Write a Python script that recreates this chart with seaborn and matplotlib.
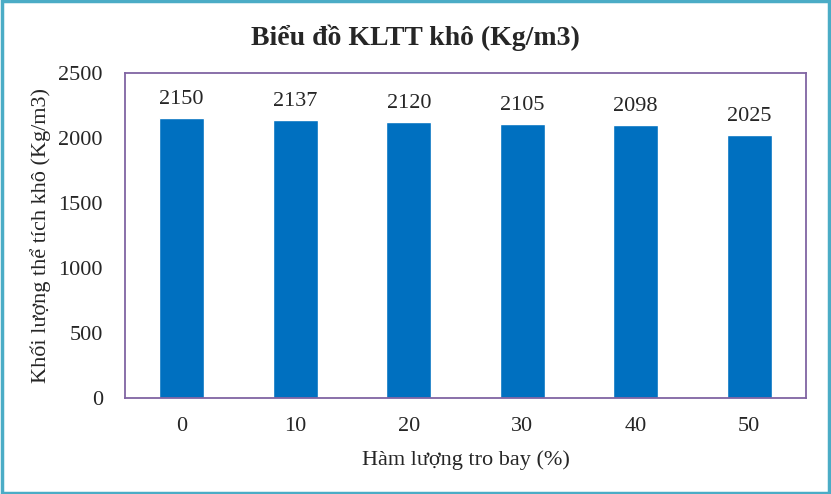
import matplotlib
matplotlib.use("Agg")
import matplotlib.pyplot as plt
import seaborn as sns
import pandas as pd
from matplotlib.patches import Rectangle

# Data
fly_ash = ["0", "10", "20", "30", "40", "50"]
density = [2150, 2137, 2120, 2105, 2098, 2025]

sns.set_style("white")
plt.rcParams['font.family'] = ['Liberation Serif', 'DejaVu Serif']

df = pd.DataFrame({"fly_ash": fly_ash, "density": density})

W, H = 831, 494
fig = plt.figure(figsize=(W / 100, H / 100), dpi=100)
ax = fig.add_axes([125 / W, (H - 398) / H, 681 / W, 325 / H])

sns.barplot(data=df, x="fly_ash", y="density", color="#0070C0",
            saturation=1, width=0.4, ax=ax)

for p, v in zip(ax.patches, density):
    ax.text(p.get_x() + p.get_width() / 2, v + 70, str(v),
            ha="center", va="bottom", fontsize=16)

ax.set_ylim(0, 2500)
ax.set_yticks(range(0, 2501, 500))
ax.tick_params(axis="both", length=0, labelsize=16)
ax.tick_params(axis="y", pad=16)
ax.tick_params(axis="x", pad=14)
ax.set_xlabel("Hàm lượng tro bay (%)", fontsize=16, labelpad=10)
ax.set_ylabel("Khối lượng thể tích khô (Kg/m3)", fontsize=16, labelpad=5)

for s in ax.spines.values():
    s.set_visible(True)
    s.set_color("#8064A2")
    s.set_linewidth(1.3)

fig.text(0.5, 1 - 38 / H, "Biểu đồ KLTT khô (Kg/m3)", ha="center", va="center",
         fontsize=20, fontweight="bold")

fig.patches.append(Rectangle((0.002, 0.003), 0.996, 0.994, transform=fig.transFigure,
                             fill=False, edgecolor="#4BACC6", linewidth=2.5))

fig.savefig("out.png", dpi=100)
